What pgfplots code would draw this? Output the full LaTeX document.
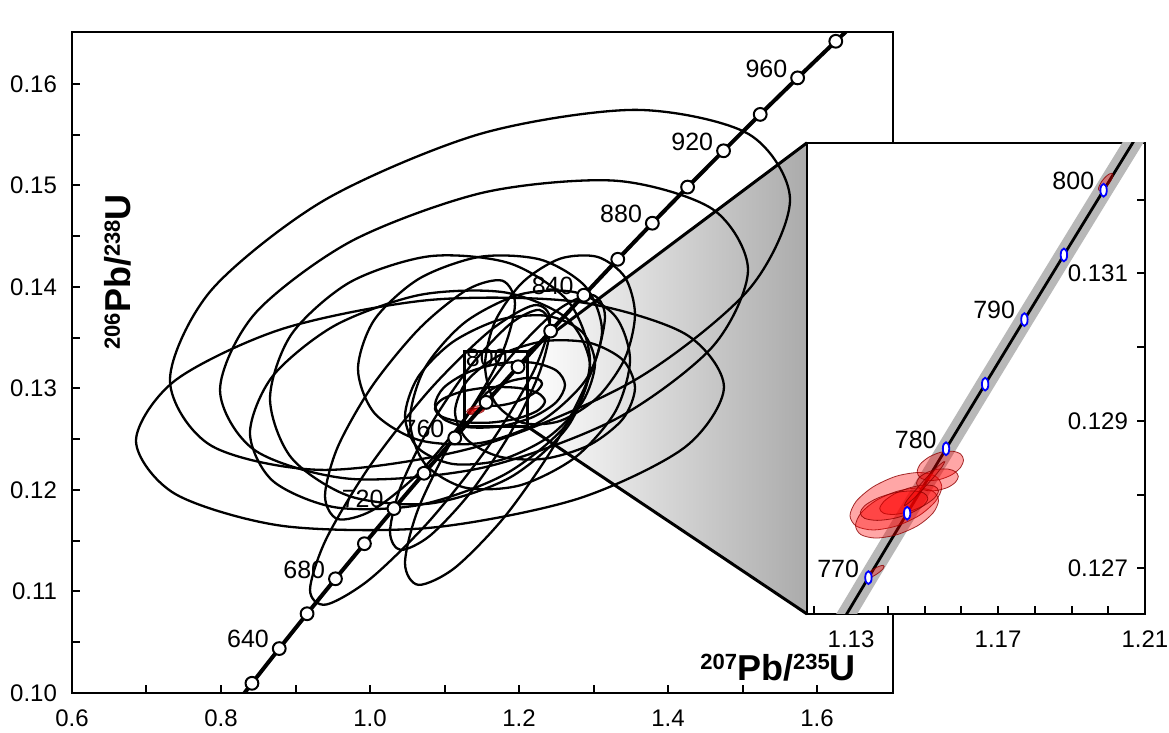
\documentclass[border=0pt]{standalone}
\usepackage{pgfplots}
\pgfplotsset{compat=1.18}
\usepackage{pgfplotstable}
\usepackage{fontspec}
\setmainfont{Liberation Sans}
\pgfplotsset{
  /pgf/number format/assume math mode=true,
  ell/.style={black, line width=1.15pt, smooth cycle},
  redell/.style={smooth cycle, fill=red, fill opacity=0.35, draw=red!55!black, draw opacity=0.8, line width=0.4pt},
}
% red (filled) error ellipses: x y
\pgfplotstableread{
x y
1.1547 0.128105
1.1530 0.128248
1.1485 0.128300
1.1422 0.128248
1.1360 0.128105
1.1314 0.127910
1.1297 0.127715
1.1314 0.127572
1.1360 0.127520
1.1422 0.127572
1.1485 0.127715
1.1530 0.127910
}\Rone
\pgfplotstableread{
x y
1.1538 0.127920
1.1523 0.128044
1.1482 0.128090
1.1425 0.128044
1.1368 0.127920
1.1327 0.127750
1.1312 0.127580
1.1327 0.127456
1.1368 0.127410
1.1425 0.127456
1.1482 0.127580
1.1523 0.127750
}\Rtwo
\pgfplotstableread{
x y
1.1606 0.128470
1.1598 0.128551
1.1575 0.128589
1.1543 0.128573
1.1512 0.128509
1.1488 0.128412
1.1480 0.128310
1.1488 0.128229
1.1512 0.128191
1.1543 0.128207
1.1575 0.128271
1.1598 0.128368
}\Rthree
\pgfplotstableread{
x y
1.1592 0.128245
1.1584 0.128311
1.1564 0.128346
1.1535 0.128343
1.1507 0.128301
1.1486 0.128233
1.1478 0.128155
1.1486 0.128089
1.1507 0.128054
1.1535 0.128057
1.1564 0.128099
1.1584 0.128167
}\Rfour
\pgfplotstableread{
x y
1.1538 0.128050
1.1527 0.128114
1.1498 0.128129
1.1458 0.128090
1.1418 0.128009
1.1389 0.127906
1.1378 0.127810
1.1389 0.127746
1.1418 0.127731
1.1458 0.127770
1.1498 0.127851
1.1527 0.127954
}\Rfive
\pgfplotstableread{
x y
1.1509 0.127950
1.1497 0.128023
1.1463 0.128050
1.1417 0.128023
1.1371 0.127950
1.1337 0.127850
1.1325 0.127750
1.1337 0.127677
1.1371 0.127650
1.1417 0.127677
1.1463 0.127750
1.1497 0.127850
}\Rsix
\pgfplotstableread{
x y
1.1555 0.128446
1.1548 0.128432
1.1528 0.128343
1.1500 0.128202
1.1473 0.128047
1.1452 0.127920
1.1445 0.127854
1.1452 0.127868
1.1473 0.127957
1.1500 0.128098
1.1528 0.128253
1.1548 0.128380
}\Rseven
\pgfplotstableread{
x y
1.1390 0.127027
1.1387 0.127040
1.1377 0.127029
1.1364 0.126997
1.1351 0.126953
1.1341 0.126908
1.1338 0.126874
1.1341 0.126860
1.1351 0.126871
1.1364 0.126903
1.1377 0.126947
1.1387 0.126993
}\Reight
\pgfplotstableread{
x y
1.2013 0.132336
1.2010 0.132359
1.2003 0.132350
1.1993 0.132312
1.1983 0.132254
1.1976 0.132193
1.1973 0.132144
1.1976 0.132121
1.1983 0.132130
1.1993 0.132168
1.2003 0.132226
1.2010 0.132287
}\Rnine
\begin{document}
\begin{tikzpicture}
\begin{axis}[
  scale only axis, width=410.5pt, height=330.5pt,
  xmin=0.6, xmax=1.702, ymin=0.1, ymax=0.1651,
  xtick={0.6,0.8,1.0,1.2,1.4,1.6},
  minor xtick={0.7,0.9,1.1,1.3,1.5},
  ytick={0.10,0.11,0.12,0.13,0.14,0.15,0.16},
  minor ytick={0.105,0.115,0.125,0.135,0.145,0.155},
  xtick pos=left, ytick pos=left, tick align=inside,
  major tick length=4pt, minor tick length=4pt,
  every tick/.style={black, line width=1pt},
  axis line style={line width=1.2pt},
  scaled ticks=false,
  xticklabel style={/pgf/number format/fixed, /pgf/number format/fixed zerofill, /pgf/number format/precision=1, yshift=-5pt},
  yticklabel style={/pgf/number format/fixed, /pgf/number format/fixed zerofill, /pgf/number format/precision=2, xshift=-4pt},
  tick label style={font=\fontsize{12}{14}\selectfont},
]
% zoom projection (shaded)
\addplot[draw=none, left color=white, right color=black!33] coordinates {(1.212,0.1336) (1.5866,0.15419) (1.5866,0.10778) (1.212,0.1262)} -- cycle;
% black error ellipses
\addplot[ell] coordinates {(1.4751,.13014) (1.4223,.13540) (1.2778,.13853) (1.0805,.13871) (0.8832,.13588) (0.7388,.13080) (0.6859,.12484) (0.7388,.11959) (0.8832,.11645) (1.0805,.11627) (1.2778,.11910) (1.4223,.12418)};
\addplot[ell] coordinates {(1.5638,.14857) (1.5080,.15506) (1.3557,.15743) (1.1477,.15506) (0.9396,.14857) (0.7873,.13970) (0.7315,.13083) (0.7873,.12434) (0.9396,.12197) (1.1477,.12434) (1.3557,.13083) (1.5080,.13970)};
\addplot[ell] coordinates {(1.5074,.14167) (1.4599,.14765) (1.3302,.15045) (1.1530,.14930) (0.9758,.14453) (0.8461,.13741) (0.7987,.12985) (0.8461,.12387) (0.9758,.12108) (1.1530,.12222) (1.3302,.12699) (1.4599,.13411)};
\addplot[ell] coordinates {(1.2953,.13269) (1.2665,.13853) (1.1879,.14231) (1.0805,.14302) (0.9732,.14046) (0.8946,.13533) (0.8658,.12899) (0.8946,.12315) (0.9732,.11937) (1.0805,.11866) (1.1879,.12122) (1.2665,.12635)};
\addplot[ell] coordinates {(1.2953,.13212) (1.2647,.13686) (1.1812,.13945) (1.0671,.13921) (0.9530,.13620) (0.8695,.13122) (0.8389,.12562) (0.8695,.12089) (0.9530,.11829) (1.0671,.11853) (1.1812,.12154) (1.2647,.12652)};
\addplot[ell] coordinates {(1.3490,.13281) (1.3292,.13711) (1.2752,.13947) (1.2013,.13925) (1.1275,.13651) (1.0735,.13199) (1.0537,.12689) (1.0735,.12259) (1.1275,.12023) (1.2013,.12045) (1.2752,.12319) (1.3292,.12771)};
\addplot[ell] coordinates {(1.3020,.13244) (1.2849,.13555) (1.2383,.13714) (1.1745,.13677) (1.1107,.13455) (1.0641,.13107) (1.0470,.12726) (1.0641,.12415) (1.1107,.12256) (1.1745,.12293) (1.2383,.12515) (1.2849,.12863)};
\addplot[ell] coordinates {(1.3557,.13005) (1.3395,.13279) (1.2953,.13448) (1.2349,.13466) (1.1745,.13329) (1.1303,.13074) (1.1141,.12769) (1.1303,.12495) (1.1745,.12326) (1.2349,.12308) (1.2953,.12445) (1.3395,.12700)};
\addplot[ell] coordinates {(1.3557,.13729) (1.3422,.14095) (1.3054,.14295) (1.2550,.14277) (1.2047,.14044) (1.1679,.13660) (1.1544,.13227) (1.1679,.12861) (1.2047,.12661) (1.2550,.12679) (1.3054,.12912) (1.3422,.13296)};
\addplot[ell] coordinates {(1.3114,.13566) (1.2895,.14000) (1.2295,.14267) (1.1477,.14296) (1.0658,.14080) (1.0058,.13675) (0.9839,.13192) (1.0058,.12758) (1.0658,.12491) (1.1477,.12462) (1.2295,.12678) (1.2895,.13083)};
\addplot[ell] coordinates {(1.2416,.13675) (1.2200,.13819) (1.1611,.13568) (1.0805,.12989) (1.0000,.12238) (0.9411,.11515) (0.9195,.11015) (0.9411,.10871) (1.0000,.11122) (1.0805,.11701) (1.1611,.12452) (1.2200,.13175)};
\addplot[ell] coordinates {(1.3154,.13707) (1.2975,.13921) (1.2483,.13752) (1.1812,.13246) (1.1141,.12538) (1.0650,.11818) (1.0470,.11279) (1.0650,.11065) (1.1141,.11234) (1.1812,.11740) (1.2483,.12448) (1.2975,.13168)};
\addplot[ell] coordinates {(1.1946,.13833) (1.1775,.14061) (1.1309,.13974) (1.0671,.13596) (1.0034,.13028) (0.9567,.12423) (0.9396,.11941) (0.9567,.11713) (1.0034,.11800) (1.0671,.12178) (1.1309,.12746) (1.1775,.13351)};
\addplot[ell] coordinates {(1.2416,.13596) (1.2272,.13773) (1.1879,.13633) (1.1342,.13214) (1.0805,.12628) (1.0412,.12032) (1.0269,.11586) (1.0412,.11409) (1.0805,.11549) (1.1342,.11968) (1.1879,.12554) (1.2272,.13150)};
\addplot[ell] coordinates {(1.2618,.13034) (1.2501,.13176) (1.2181,.13253) (1.1745,.13246) (1.1309,.13156) (1.0989,.13007) (1.0873,.12839) (1.0989,.12697) (1.1309,.12619) (1.1745,.12626) (1.2181,.12716) (1.2501,.12865)};
\addplot[ell] coordinates {(1.2349,.12873) (1.2250,.12955) (1.1980,.13005) (1.1611,.13011) (1.1242,.12970) (1.0971,.12893) (1.0872,.12802) (1.0971,.12719) (1.1242,.12669) (1.1611,.12663) (1.1980,.12704) (1.2250,.12781)};
\addplot[ell] coordinates {(1.2309,.13049) (1.2255,.13093) (1.2107,.13103) (1.1906,.13076) (1.1705,.13020) (1.1557,.12950) (1.1503,.12883) (1.1557,.12839) (1.1705,.12829) (1.1906,.12856) (1.2107,.12912) (1.2255,.12983)};
% red ellipses (small at this scale)
\addplot[redell] table {\Rone};
\addplot[redell] table {\Rtwo};
\addplot[redell] table {\Rthree};
\addplot[redell] table {\Rfive};
\addplot[redell] table {\Rsix};
% concordia
\addplot[black, line width=2pt, smooth] coordinates {
(0.80563,0.097544) (0.84155,0.100954) (0.87818,0.104375) (0.91554,0.107807) (0.95365,0.111249)
(0.99251,0.114703) (1.03215,0.118166) (1.07257,0.121641) (1.11380,0.125126) (1.15585,0.128622)
(1.19873,0.132129) (1.24247,0.135647) (1.28708,0.139176) (1.33257,0.142715) (1.37897,0.146266)
(1.42629,0.149828) (1.47456,0.153401) (1.52378,0.156985) (1.57399,0.160580) (1.62519,0.164186)
(1.67741,0.167804)};
\addplot[only marks, mark=*, mark size=3.2pt, mark options={fill=white, draw=black, line width=1pt}] coordinates {
(0.84155,0.100954) (0.87818,0.104375) (0.91554,0.107807) (0.95365,0.111249)
(0.99251,0.114703) (1.03215,0.118166) (1.07257,0.121641) (1.11380,0.125126) (1.15585,0.128622)
(1.19873,0.132129) (1.24247,0.135647) (1.28708,0.139176) (1.33257,0.142715) (1.37897,0.146266)
(1.42629,0.149828) (1.47456,0.153401) (1.52378,0.156985) (1.57399,0.160580) (1.62519,0.164186)};
% age labels
\begin{scope}[every node/.style={anchor=south east, inner sep=0pt, xshift=-5pt, font=\fontsize{12.5}{14}\selectfont}]
\node at (axis cs:0.87818,0.104375) {640};
\node at (axis cs:0.95365,0.111249) {680};
\node at (axis cs:1.03215,0.118166) {720};
\node at (axis cs:1.11380,0.125126) {760};
\node at (axis cs:1.19873,0.132129) {800};
\node at (axis cs:1.28708,0.139176) {840};
\node at (axis cs:1.37897,0.146266) {880};
\node at (axis cs:1.47456,0.153401) {920};
\node at (axis cs:1.57399,0.160580) {960};
\end{scope}
% zoom box and projection lines
\draw[line width=1.5pt] (axis cs:1.127,0.1262) rectangle (axis cs:1.212,0.1336);
\draw[line width=1.5pt] (axis cs:1.212,0.1336) -- (axis cs:1.5866,0.15419);
\draw[line width=1.5pt] (axis cs:1.212,0.1262) -- (axis cs:1.5866,0.10778);
% axis titles
\node[rotate=90, inner sep=0pt, font=\fontsize{18}{20}\selectfont\bfseries] at (rel axis cs:0.056,0.637)
  {\raisebox{5.5pt}{\fontsize{11}{12}\selectfont 206}Pb/\raisebox{5.5pt}{\fontsize{11}{12}\selectfont 238}U};
\node[inner sep=0pt, font=\fontsize{18}{20}\selectfont\bfseries] at (rel axis cs:0.860,0.038)
  {\raisebox{5.5pt}{\fontsize{11}{12}\selectfont 207}Pb/\raisebox{5.5pt}{\fontsize{11}{12}\selectfont 235}U};
\node[anchor=base east, inner sep=0pt, xshift=-2.5pt, yshift=3pt, font=\fontsize{9.5}{11}\selectfont] at (rel axis cs:1,1) {data-point error ellipses are 2s};
\end{axis}

% inset
\begin{axis}[
  at={(367.5pt,39.5pt)}, anchor=south west,
  scale only axis, width=169pt, height=235.5pt,
  xmin=1.118, xmax=1.21, ymin=0.12638, ymax=0.13277,
  axis background/.style={fill=white},
  xtick={1.13,1.17,1.21},
  minor xtick={1.12,1.14,1.15,1.16,1.18,1.19,1.20},
  ytick={0.127,0.129,0.131},
  minor ytick={0.128,0.130,0.132},
  xtick pos=left, ytick pos=right, yticklabel pos=right, tick align=inside,
  major tick length=4pt, minor tick length=4pt,
  every tick/.style={black, line width=1pt},
  axis line style={line width=1.2pt},
  scaled ticks=false,
  xticklabel style={/pgf/number format/fixed, /pgf/number format/fixed zerofill, /pgf/number format/precision=2, yshift=-5pt},
  yticklabel style={/pgf/number format/fixed, /pgf/number format/fixed zerofill, /pgf/number format/precision=3, anchor=east, xshift=-5pt},
  tick label style={font=\fontsize{12}{14}\selectfont},
]
\addplot[black!28, line width=9pt] coordinates {
(1.12423,0.125999) (1.13472,0.126873) (1.14526,0.127747) (1.15585,0.128622) (1.16649,0.129498)
(1.17718,0.130374) (1.18793,0.131251) (1.19873,0.132129) (1.20958,0.133008)};
\addplot[black, line width=1.4pt] coordinates {
(1.12423,0.125999) (1.13472,0.126873) (1.14526,0.127747) (1.15585,0.128622) (1.16649,0.129498)
(1.17718,0.130374) (1.18793,0.131251) (1.19873,0.132129) (1.20958,0.133008)};
\addplot[redell] table {\Rone};
\addplot[redell] table {\Rtwo};
\addplot[redell] table {\Rthree};
\addplot[redell] table {\Rfour};
\addplot[redell] table {\Rfive};
\addplot[redell] table {\Rsix};
\addplot[redell] table {\Rseven};
\addplot[redell] table {\Reight};
\addplot[redell] table {\Rnine};
\addplot[only marks, mark=*, mark size=3.2pt, mark options={draw=blue, fill=white, line width=0.9pt, xscale=0.5}] coordinates {
(1.13472,0.126873) (1.14526,0.127747) (1.15585,0.128622) (1.16649,0.129498)
(1.17718,0.130374) (1.18793,0.131251) (1.19873,0.132129)};
\begin{scope}[every node/.style={anchor=south east, inner sep=0pt, xshift=-4.5pt, font=\fontsize{12.5}{14}\selectfont}]
\node at (axis cs:1.13472,0.126873) {770};
\node at (axis cs:1.15585,0.128622) {780};
\node at (axis cs:1.17718,0.130374) {790};
\node at (axis cs:1.19873,0.132129) {800};
\end{scope}
\end{axis}
\pgfresetboundingbox
\path (-36pt,-20pt) rectangle (548.5pt,346.5pt);
\end{tikzpicture}
\end{document}
